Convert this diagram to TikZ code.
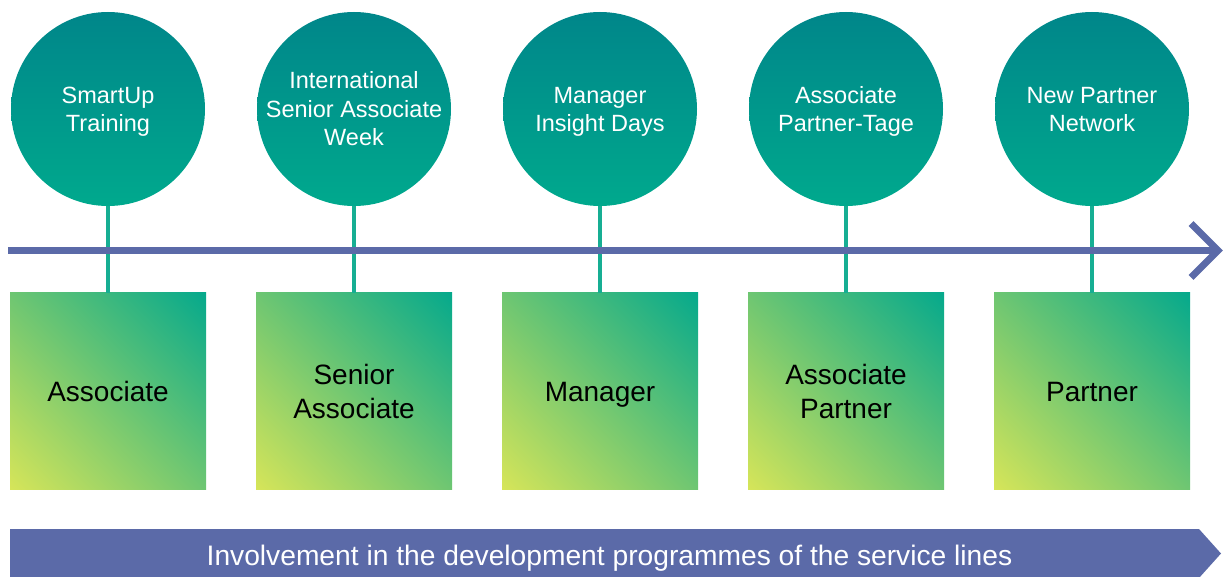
\documentclass[tikz,border=0pt]{standalone}
\usepackage{fontspec}
\setmainfont{Liberation Sans}
\usetikzlibrary{shadings}
\definecolor{lineblue}{HTML}{5B6AA8}
\definecolor{circtop}{HTML}{00868A}
\definecolor{circbot}{HTML}{00A98D}
\definecolor{stemcol}{HTML}{16AE93}
\definecolor{sqll}{HTML}{D6E559}
\definecolor{squr}{HTML}{05A98C}
\definecolor{sqmid}{HTML}{6EC672}
\newcommand\cstack[1]{\begin{tabular}[b]{@{}c@{}}#1\end{tabular}}
\tikzset{
  bubble/.style={circle, minimum size=194pt, inner sep=0pt, top color=circtop, bottom color=circbot, draw=none,
    text=white, font=\fontsize{23.5}{28.5}\selectfont, text depth=0pt},
  bub2/.style={bubble, text height=45.3pt},
  bub3/.style={bubble, text height=73.8pt},
  levelbox/.style={rectangle, minimum size=196pt, inner sep=0pt, lower left=sqll, upper right=squr,
    upper left=sqmid, lower right=sqmid, draw=none, text=black, font=\fontsize{28}{34}\selectfont, text depth=0pt},
  lev1/.style={levelbox, text height=20.05pt},
  lev2/.style={levelbox, text height=54.05pt},
  stem/.style={draw=stemcol, line width=3.2pt},
  timeline/.style={draw=lineblue, line width=7pt},
}
\begin{document}
\begin{tikzpicture}[x=1pt,y=-1pt]
\useasboundingbox (0,0) rectangle (1224,577);
% squares
\node[lev1] (s1) at (108,391) {\cstack{Associate}};
\node[lev2] (s2) at (354,391) {\cstack{Senior\\Associate}};
\node[lev1] (s3) at (600,391) {\cstack{Manager}};
\node[lev2] (s4) at (846,391) {\cstack{Associate\\Partner}};
\node[lev1] (s5) at (1092,391) {\cstack{Partner}};
% circles
\node[bub2] (c1) at (108,109) {\cstack{SmartUp\\Training}};
\node[bub3] (c2) at (354,109) {\cstack{International\\Senior Associate\\Week}};
\node[bub2] (c3) at (600,109) {\cstack{Manager\\Insight Days}};
\node[bub2] (c4) at (846,109) {\cstack{Associate\\Partner-Tage}};
\node[bub2] (c5) at (1092,109) {\cstack{New Partner\\Network}};
% stems
\foreach \i in {1,...,5} {\draw[stem] (c\i.south) -- (s\i.north);}
% timeline
\coordinate (tl) at (8,250.5);
\coordinate (tr) at (1218,250.5);
\coordinate (ta) at (1191,223.5);
\coordinate (tb) at (1191,277.5);
\draw[timeline] (tl) -- (tr);
\draw[timeline, miter limit=4] (ta) -- (tr) -- (tb);
% band
\fill[lineblue] (10,529) -- (1199,529) -- (1221,553.5) -- (1199,578) -- (10,578) -- cycle;
\node[text=white, font=\fontsize{28.2}{33}\selectfont, anchor=base] (band) at (609.5,565) {Involvement in the development programmes of the service lines};
\end{tikzpicture}
\end{document}
